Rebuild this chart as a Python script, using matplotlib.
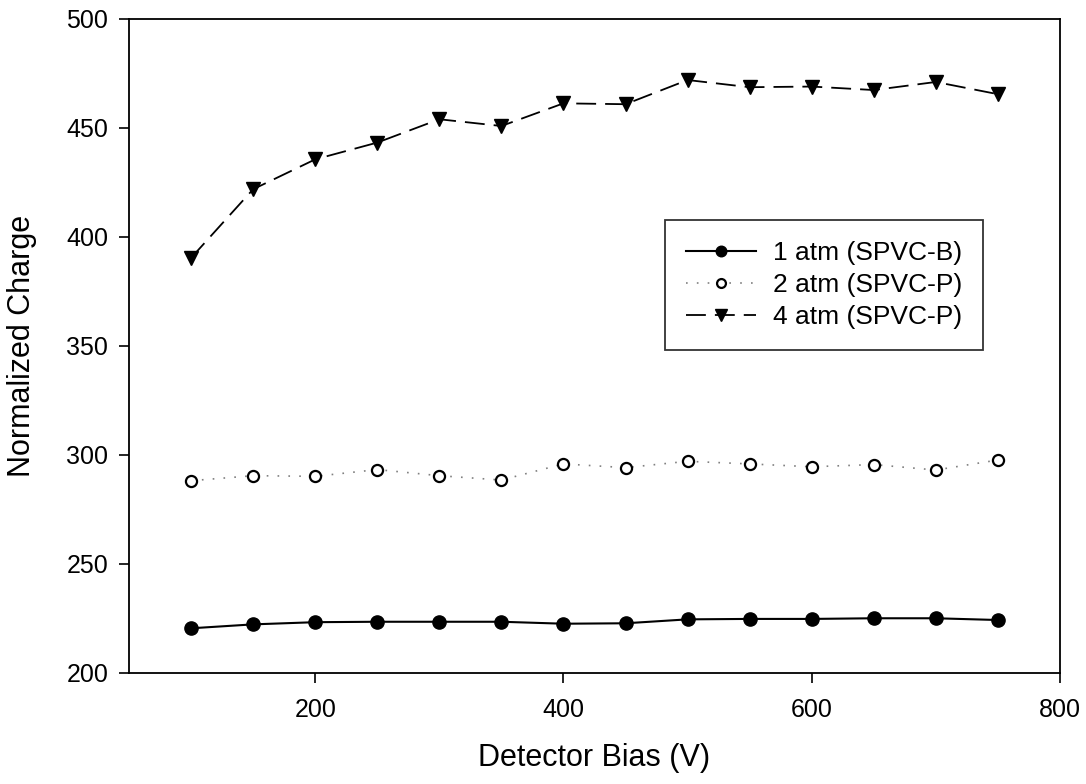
import matplotlib
matplotlib.use("Agg")
import matplotlib.pyplot as plt

plt.rcParams['font.family'] = ['Liberation Sans', 'DejaVu Sans']

bias = [100, 150, 200, 250, 300, 350, 400, 450, 500, 550, 600, 650, 700, 750]
charge_1atm = [220.5, 222.3, 223.3, 223.5, 223.5, 223.5, 222.6, 222.8,
               224.6, 224.8, 224.8, 225.1, 225.1, 224.3]
charge_2atm = [288.2, 290.5, 290.2, 293.3, 290.5, 288.5, 295.9, 294.2,
               297.1, 295.9, 294.6, 295.6, 293.1, 297.7]
charge_4atm = [390.4, 421.9, 435.6, 443.3, 454.0, 450.9, 461.3, 460.9,
               472.0, 468.7, 469.0, 467.4, 471.1, 465.5]
labels = ['1 atm (SPVC-B)', '2 atm (SPVC-P)', '4 atm (SPVC-P)']

fig = plt.figure(figsize=(10.86, 7.84), dpi=100)
ax = fig.add_axes([0.1188, 0.1416, 0.8572, 0.8342])

ax.plot(bias, charge_1atm, color='black', linestyle='-', linewidth=1.5,
        marker='o', markersize=9.5, markerfacecolor='black', label=labels[0])
ax.plot(bias, charge_2atm, color='#808080', linestyle=(0, (1, 5.5)), linewidth=1.2,
        marker='o', markersize=8, markerfacecolor='white',
        markeredgecolor='black', markeredgewidth=1.6, label=labels[1])
ax.plot(bias, charge_4atm, color='black', linestyle=(0, (11, 5)), linewidth=1.3,
        marker='v', markersize=10, markerfacecolor='black', label=labels[2])

ax.set_xlim(50, 800)
ax.set_ylim(200, 500)
ax.set_xticks([200, 400, 600, 800])
ax.set_yticks([200, 250, 300, 350, 400, 450, 500])
ax.tick_params(direction='out', length=7, width=1.2, labelsize=18)
ax.tick_params(axis='y', pad=8)
ax.tick_params(axis='x', pad=11)
for s in ax.spines.values():
    s.set_linewidth(1.3)

ax.set_xlabel('Detector Bias (V)', fontsize=22)
ax.set_ylabel('Normalized Charge', fontsize=22)
ax.xaxis.set_label_coords(0.5, -0.107)
ax.yaxis.set_label_coords(-0.099, 0.5)

leg = ax.legend(loc='upper left', bbox_to_anchor=(0.5757, 0.6927), fontsize=19,
                frameon=True, fancybox=False, edgecolor='black',
                handlelength=2.65, borderpad=0.8, labelspacing=0.3,
                handletextpad=0.64, borderaxespad=0, markerscale=0.8)
leg.get_frame().set_linewidth(1.3)

fig.savefig('out.png', dpi=100)
